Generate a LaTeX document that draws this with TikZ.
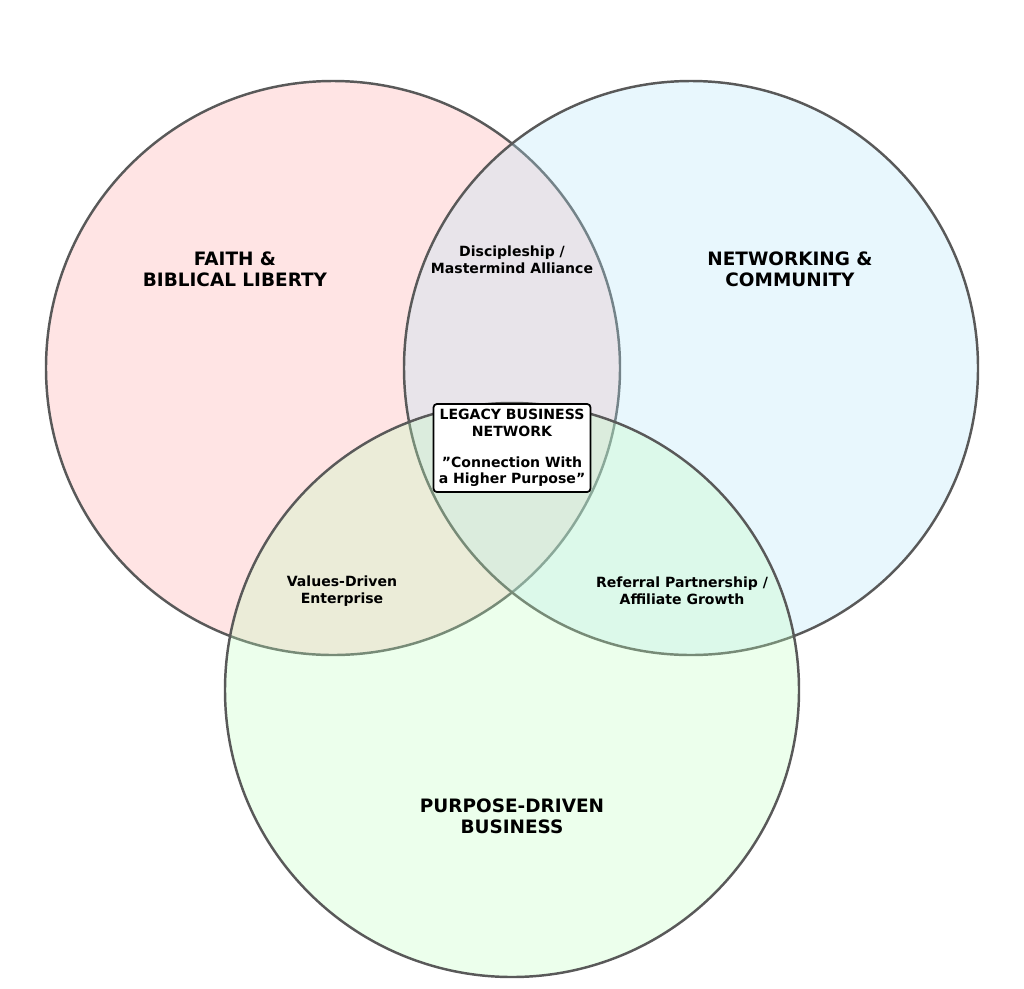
\documentclass[tikz,border=0pt]{standalone}
\usepackage{fontspec}
\setmainfont{DejaVu Sans}
\begin{document}
\begin{tikzpicture}[x=0.02cm,y=-0.02cm,
  set/.style={draw=black!65,line width=1.4pt,fill opacity=0.3},
  big/.style={font=\bfseries\fontsize{10.5}{12}\selectfont,align=center},
  small/.style={font=\bfseries\fontsize{8}{9.5}\selectfont,align=center}]
  \useasboundingbox (0,0) rectangle (1024,988);
  % sets
  \draw[set,fill=red!35] (333,368) circle (287);
  \draw[set,fill=cyan!30] (691,368) circle (287);
  \draw[set,fill=green!25] (512,690) circle (287);
  % labels
  \node[big] (faith) at (235,269) {FAITH \&\\BIBLICAL LIBERTY};
  \node[big] (net) at (790,269) {NETWORKING \&\\COMMUNITY};
  \node[big] (purpose) at (512,816) {PURPOSE-DRIVEN\\BUSINESS};
  \node[small] (disc) at (512,260) {Discipleship /\\Mastermind Alliance};
  \node[small] (values) at (342,591) {Values-Driven\\Enterprise};
  \node[small] (ref) at (682,591) {Referral Partnership /\\Affiliate Growth};
  \node[small,draw=black,fill=white,rounded corners=2pt,line width=1pt,inner sep=3pt] (core) at (512,448)
    {LEGACY BUSINESS\\NETWORK\\[1em]"Connection With\\a Higher Purpose"};
\end{tikzpicture}
\end{document}
